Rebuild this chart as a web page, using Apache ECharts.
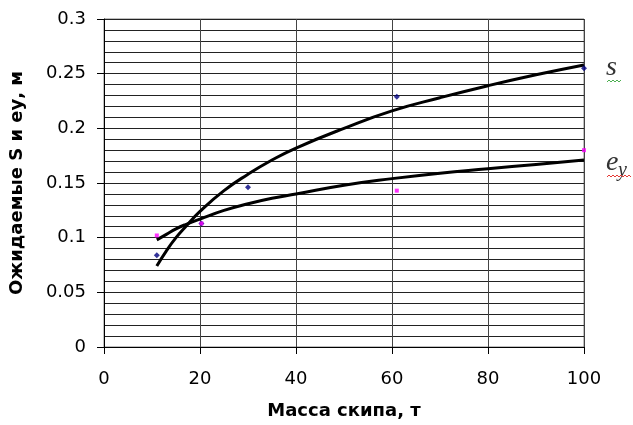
<!DOCTYPE html>
<html><head><meta charset="utf-8">
<script src="https://cdn.jsdelivr.net/npm/echarts@6/dist/echarts.min.js"></script>
<style>html,body{margin:0;padding:0;background:#fff}#c{width:633px;height:425px}</style>
</head><body><div id="c"></div>
<script>
// Measured points
var sPoints = [[11, 0.084], [20.3, 0.113], [30, 0.146], [61, 0.229], [100, 0.255]];
var eyPoints = [[11, 0.102], [20.3, 0.113], [61, 0.143], [100, 0.180]];
// Trend curves
var curveX = [11, 13, 15, 17, 20, 25, 30, 35, 40, 50, 60, 70, 80, 90, 100];
var sCurveY = [0.074, 0.088, 0.100, 0.110, 0.124, 0.143, 0.158, 0.171, 0.182, 0.200, 0.216, 0.228, 0.239, 0.249, 0.258];
var eyCurveY = [0.098, 0.103, 0.108, 0.112, 0.117, 0.125, 0.131, 0.136, 0.140, 0.148, 0.154, 0.159, 0.163, 0.167, 0.171];
var xTicks = [0, 20, 40, 60, 80, 100];
var yTicks = [0, 0.05, 0.1, 0.15, 0.2, 0.25, 0.3];
var xTitle = 'Масса скипа, т';
var yTitle = 'Ожидаемые S и еу, м';

function zip(xs, ys) { return xs.map(function (x, i) { return [x, ys[i]]; }); }

var chart = echarts.init(document.getElementById('c'));
chart.setOption({
  animation: false,
  backgroundColor: '#fff',
  grid: { left: 104, right: 49, top: 19, bottom: 73, show: true, borderColor: '#808080', borderWidth: 1 },
  xAxis: {
    type: 'value', min: xTicks[0], max: xTicks[xTicks.length - 1], interval: 20,
    name: xTitle, nameLocation: 'middle', nameGap: 55,
    nameTextStyle: { fontFamily: 'DejaVu Sans', fontWeight: 'bold', fontSize: 18, color: '#000' },
    axisLine: { show: true, lineStyle: { color: '#000', width: 1 } },
    axisTick: { show: true, length: 7, lineStyle: { color: '#000' } },
    axisLabel: { fontFamily: 'DejaVu Sans', fontSize: 18, color: '#000', margin: 23 },
    splitLine: { show: true, lineStyle: { color: '#444', width: 1 } }
  },
  yAxis: {
    type: 'value', min: yTicks[0], max: yTicks[yTicks.length - 1], interval: 0.05,
    name: yTitle, nameLocation: 'middle', nameGap: 78,
    nameTextStyle: { fontFamily: 'DejaVu Sans', fontWeight: 'bold', fontSize: 18, color: '#000' },
    axisLine: { show: true, lineStyle: { color: '#000', width: 1 } },
    axisTick: { show: true, length: 7, lineStyle: { color: '#000' } },
    axisLabel: { fontFamily: 'DejaVu Sans', fontSize: 18, color: '#000', margin: 18,
      formatter: function (v) { return String(Math.round(v * 100) / 100); } },
    splitLine: { show: true, lineStyle: { color: '#222', width: 1 } },
    minorTick: { show: false, splitNumber: 5 },
    minorSplitLine: { show: true, lineStyle: { color: '#222', width: 1 } }
  },
  series: [
    { type: 'line', data: zip(curveX, sCurveY), smooth: true, showSymbol: false, symbol: 'none',
      lineStyle: { color: '#000', width: 3 }, z: 3 },
    { type: 'line', data: zip(curveX, eyCurveY), smooth: true, showSymbol: false, symbol: 'none',
      lineStyle: { color: '#000', width: 3 }, z: 3 },
    { type: 'scatter', data: sPoints, symbol: 'diamond', symbolSize: 6, itemStyle: { color: '#000080' }, z: 4 },
    { type: 'scatter', data: eyPoints, symbol: 'rect', symbolSize: 4, itemStyle: { color: '#FF00FF' }, z: 4 }
  ],
  graphic: [
    { type: 'text', left: 606, top: 54, style: { text: 's', font: 'italic 28px "Liberation Serif"', fill: '#333' } },
    { type: 'polyline', shape: { points: [[607,82],[609,80],[611,82],[613,80],[615,82],[617,80],[619,82],[621,80]] },
      style: { stroke: '#4caf50', lineWidth: 1, fill: null } },
    { type: 'text', left: 606, top: 149, style: { text: 'e', font: 'italic 28px "Liberation Serif"', fill: '#333' } },
    { type: 'text', left: 618, top: 161, style: { text: 'y', font: 'italic 20px "Liberation Serif"', fill: '#333' } },
    { type: 'polyline', shape: { points: [[607,177],[609,175],[611,177],[613,175],[615,177],[617,175],[619,177],[621,175],[623,177],[625,175],[627,177],[629,175],[631,177]] },
      style: { stroke: '#e53935', lineWidth: 1, fill: null } }
  ]
});
</script></body></html>
